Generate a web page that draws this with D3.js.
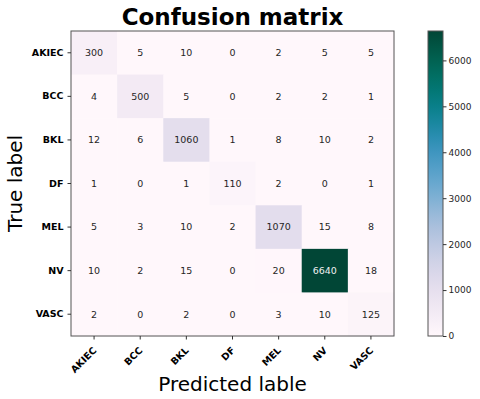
<!DOCTYPE html>
<html>
<head>
<meta charset="utf-8">
<script src="https://cdn.jsdelivr.net/npm/d3@7"></script>
<style>
  body { margin: 0; background: #fff; }
  text { font-family: "DejaVu Sans", sans-serif; }
  .tick-lbl { font-weight: bold; font-size: 9.5px; fill: #000; }
  .cell-txt { font-size: 9.5px; }
  .axis-label { font-size: 20px; fill: #000; }
</style>
</head>
<body>
<div id="chart"></div>
<script>
// data
const classes = ['AKIEC', 'BCC', 'BKL', 'DF', 'MEL', 'NV', 'VASC'];
const matrix = [
  [300, 5, 10, 0, 2, 5, 5],
  [4, 500, 5, 0, 2, 2, 1],
  [12, 6, 1060, 1, 8, 10, 2],
  [1, 0, 1, 110, 2, 0, 1],
  [5, 3, 10, 2, 1070, 15, 8],
  [10, 2, 15, 0, 20, 6640, 18],
  [2, 0, 2, 0, 3, 10, 125]
];
const cbTicks = [0, 1000, 2000, 3000, 4000, 5000, 6000];

const W = 480, H = 399;
const margin = {top: 31, left: 71, right: 86, bottom: 63};
const width = W - margin.left - margin.right,
      height = H - margin.top - margin.bottom;

const vmax = d3.max(matrix.flat());
const color = d3.scaleSequential(d3.interpolatePuBuGn).domain([0, vmax]);

const svg = d3.select('#chart').append('svg')
    .attr('width', W).attr('height', H);

const g = svg.append('g')
    .attr('transform', `translate(${margin.left},${margin.top})`);

const x = d3.scaleBand().domain(classes).range([0, width]);
const y = d3.scaleBand().domain(classes).range([0, height]);

// cells
const cells = [];
matrix.forEach((row, i) => row.forEach((v, j) => cells.push({r: classes[i], c: classes[j], v})));

g.selectAll('rect.cell').data(cells).enter().append('rect')
  .attr('class', 'cell')
  .attr('x', d => x(d.c)).attr('y', d => y(d.r))
  .attr('width', x.bandwidth() + 0.5).attr('height', y.bandwidth() + 0.5)
  .attr('fill', d => color(d.v));

g.selectAll('text.cell-txt').data(cells).enter().append('text')
  .attr('class', 'cell-txt')
  .attr('x', d => x(d.c) + x.bandwidth() / 2)
  .attr('y', d => y(d.r) + y.bandwidth() / 2)
  .attr('text-anchor', 'middle').attr('dy', '0.35em')
  .attr('fill', d => d.v > vmax / 2 ? '#f0f0f0' : '#262626')
  .text(d => d.v);

// frame
g.append('rect').attr('width', width).attr('height', height)
  .attr('fill', 'none').attr('stroke', '#555').attr('stroke-width', 1);

// axes
const xAxis = g.append('g').attr('transform', `translate(0,${height})`)
  .call(d3.axisBottom(x).tickSize(3.5));
xAxis.select('.domain').remove();
xAxis.selectAll('line').attr('stroke', '#333');
xAxis.selectAll('text').attr('class', 'tick-lbl')
  .attr('text-anchor', 'end')
  .attr('x', 0).attr('y', 0).attr('dy', 0)
  .attr('transform', 'translate(3,15) rotate(-45)');

const yAxis = g.append('g')
  .call(d3.axisLeft(y).tickSize(3.5).tickPadding(4));
yAxis.select('.domain').remove();
yAxis.selectAll('line').attr('stroke', '#333');
yAxis.selectAll('text').attr('class', 'tick-lbl');

// labels
svg.append('text').attr('class', 'axis-label')
  .attr('text-anchor', 'middle')
  .attr('x', margin.left + width / 2).attr('y', 391)
  .text('Predicted lable');

svg.append('text').attr('class', 'axis-label')
  .attr('text-anchor', 'middle')
  .attr('transform', `translate(22,${margin.top + height / 2}) rotate(-90)`)
  .text('True label');

svg.append('text')
  .attr('text-anchor', 'middle')
  .attr('x', margin.left + width / 2).attr('y', 25)
  .style('font-size', '23px').style('font-weight', 'bold')
  .text('Confusion matrix');

// colorbar
const cbX = 428, cbW = 15;
const cbScale = d3.scaleLinear().domain([0, vmax]).range([margin.top + height, margin.top]);
const defs = svg.append('defs');
const grad = defs.append('linearGradient').attr('id', 'cbgrad')
  .attr('x1', 0).attr('y1', 1).attr('x2', 0).attr('y2', 0);
d3.range(0, 1.0001, 0.05).forEach(t => {
  grad.append('stop').attr('offset', t).attr('stop-color', color(t * vmax));
});
svg.append('rect').attr('x', cbX).attr('y', margin.top)
  .attr('width', cbW).attr('height', height)
  .attr('fill', 'url(#cbgrad)').attr('stroke', '#555').attr('stroke-width', 1);

const cbAxis = svg.append('g').attr('transform', `translate(${cbX + cbW},0)`)
  .call(d3.axisRight(cbScale).tickValues(cbTicks).tickFormat(d3.format('d')).tickSize(3.5).tickPadding(2));
cbAxis.select('.domain').remove();
cbAxis.selectAll('line').attr('stroke', '#333');
cbAxis.selectAll('text').style('font-size', '9px').attr('fill', '#262626');
</script>
</body>
</html>
